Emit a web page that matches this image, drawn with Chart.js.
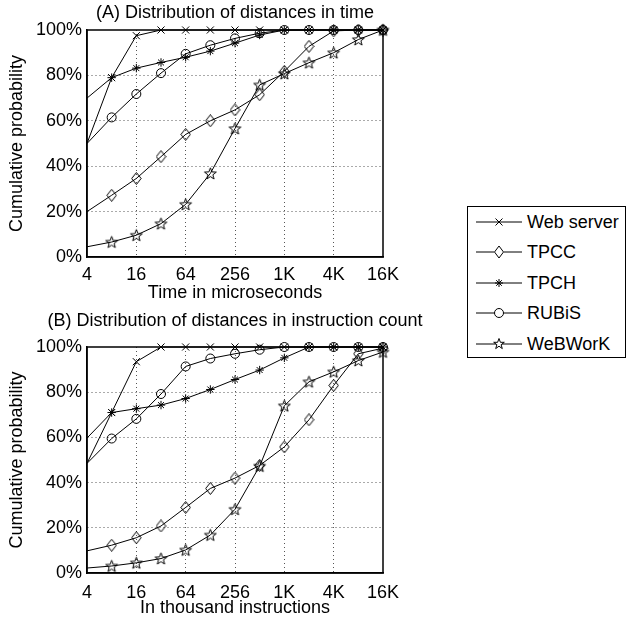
<!DOCTYPE html>
<html><head><meta charset="utf-8">
<script src="https://cdn.jsdelivr.net/npm/chart.js@4"></script>
<style>
body{margin:0;background:#fff;width:626px;height:624px;position:relative;overflow:hidden;font-family:"Liberation Sans",Arial,sans-serif;}
#ca{position:absolute;left:0;top:0;}
#cb{position:absolute;left:0;top:310px;}
#legend{position:absolute;left:467px;top:206px;width:159px;height:152px;border:1.5px solid #000;box-sizing:border-box;background:#fff;}
.item{position:absolute;left:0;width:157px;height:20px;}
.item svg{position:absolute;left:8px;top:0;}
.item span{position:absolute;left:59px;top:0;font-size:18px;line-height:20px;color:#000;white-space:nowrap;}
</style>
</head><body>
<canvas id="ca" width="470" height="310"></canvas>
<canvas id="cb" width="470" height="314"></canvas>
<div id="legend"></div>
<script>
// ---- data ----
const xLabels = ['4','8','16','32','64','128','256','512','1K','2K','4K','8K','16K'];
const seriesNames = ['Web server','TPCC','TPCH','RUBiS','WeBWorK'];
// (A) time in microseconds
const webServerA = [50, 79, 97.5, 100, 100, 100, 100, 100, 100, 100, 100, 100, 100];
const tpccA      = [20, 27.2, 34.6, 44.2, 54, 60, 64.8, 71.5, 81.8, 92.8, 99.6, 100, 100];
const tpchA      = [70, 79, 83.2, 85.7, 88, 90.7, 94.2, 97.8, 100, 100, 100, 100, 100];
const rubisA     = [50, 61.5, 71.8, 81, 89.5, 93.3, 96.3, 98.6, 100, 100, 100, 100, 100];
const webworkA   = [4.5, 6.6, 9.6, 14.7, 23.2, 36.8, 56.6, 75.8, 80.8, 85.6, 90, 95.8, 100];
// (B) thousand instructions
const webServerB = [48.5, 71, 93.5, 100, 100, 100, 100, 100, 100, 100, 100, 100, 100];
const tpccB      = [9.8, 12.3, 15.6, 20.8, 29, 37.4, 42, 47.6, 55.8, 67.8, 83, 97, 99.5];
const tpchB      = [59.7, 71, 72.7, 74.3, 77.2, 81.2, 85.6, 89.8, 95.2, 100, 100, 100, 100];
const rubisB     = [48.5, 59.5, 68.2, 79.2, 91.4, 94.9, 97, 98.8, 100, 100, 100, 100, 100];
const webworkB   = [2.2, 3.1, 4.5, 6.4, 10.2, 16.8, 28.2, 47.3, 74, 84.6, 89, 94, 97.8];
const yTicks = [0, 20, 40, 60, 80, 100];

const FONT = '"Liberation Sans", Arial, Helvetica, sans-serif';

function makeStar(){
  const c=document.createElement('canvas'); c.width=15; c.height=15;
  const g=c.getContext('2d'); g.strokeStyle='#000'; g.lineWidth=1; g.beginPath();
  for(let i=0;i<10;i++){ const r=i%2?2.6:6.2; const a=-Math.PI/2+i*Math.PI/5;
    const x=7.5+r*Math.cos(a), y=8+r*Math.sin(a); if(i) g.lineTo(x,y); else g.moveTo(x,y);}
  g.closePath(); g.stroke(); return c;
}
function makeDiamond(){
  const c=document.createElement('canvas'); c.width=11; c.height=13;
  const g=c.getContext('2d'); g.strokeStyle='#000'; g.lineWidth=1; g.beginPath();
  g.moveTo(5.5,0.5); g.lineTo(10.2,6.5); g.lineTo(5.5,12.5); g.lineTo(0.8,6.5); g.closePath(); g.stroke(); return c;
}
const starImg = makeStar(), diamondImg = makeDiamond();
const styles = ['crossRot', diamondImg, 'star', 'circle', starImg];
const radii = [5, 5, 4.2, 4.5, 5];

const frame = {id:'frame', afterDraw(chart){
  const a=chart.chartArea,c=chart.ctx;c.save();c.strokeStyle='#000';c.lineWidth=1.5;
  c.strokeRect(a.left,a.top,a.right-a.left,a.bottom-a.top);
  const t=chart.options.plugins.frame;
  c.fillStyle='#000';c.font='18px '+FONT;c.textAlign='center';c.textBaseline='middle';
  c.fillText(t.title,(a.left+a.right)/2,t.titleY);
  c.restore();}};

function makeChart(id, series, o){
  return new Chart(document.getElementById(id), {
    type:'line',
    data:{labels:xLabels, datasets: seriesNames.map((n,i)=>({
      label:n, data:series[i], borderColor:'#000', borderWidth:1, tension:0, clip:false,
      pointStyle:styles[i], pointRadius:(ctx)=>ctx.dataIndex===0?0:radii[i],
      pointBorderColor:'#000', pointBackgroundColor:'rgba(0,0,0,0)', pointBorderWidth:1
    }))},
    options:{
      responsive:false, animation:false, devicePixelRatio:1,
      layout:{padding:{left:0,right:87,top:o.topPad,bottom:0}},
      plugins:{legend:{display:false}, tooltip:{enabled:false}, frame:{title:o.title, titleY:o.titleY}},
      scales:{
        x:{type:'category', offset:false,
          grid:{color:(c)=>(c.index%2===0&&c.index>0&&c.index<xLabels.length-1)?'#555':'rgba(0,0,0,0)', drawTicks:false, lineWidth:1},
          border:{display:true,color:'#000',width:1.5,dash:[1,3]},
          ticks:{autoSkip:false,maxRotation:0,minRotation:0,padding:o.tickPad,color:'#000',font:{size:18,family:FONT},
            callback:(v,i)=> i%2===0 ? xLabels[i] : ''},
          title:{display:true,text:o.xTitle,color:'#000',font:{size:18,family:FONT},padding:{top:0,bottom:o.xTitlePad}},
          afterFit:(s)=>{s.height=o.xHeight;}
        },
        y:{min:0,max:100,
          afterBuildTicks:(s)=>{s.ticks=yTicks.map(v=>({value:v}));},
          grid:{color:(c)=>(c.tick&&c.tick.value>0&&c.tick.value<100)?'#555':'rgba(0,0,0,0)', drawTicks:false, lineWidth:1},
          border:{display:true,color:'#000',width:1.5,dash:[1,3]},
          ticks:{padding:5,color:'#000',font:{size:18,family:FONT},callback:(v)=>v+'%'},
          title:{display:true,text:'Cumulative probability',color:'#000',font:{size:18,family:FONT},padding:{top:6,bottom:0}},
          afterFit:(s)=>{s.width=87;}
        }
      }
    },
    plugins:[frame]
  });
}

makeChart('ca', [webServerA,tpccA,tpchA,rubisA,webworkA],
  {title:'(A) Distribution of distances in time', xTitle:'Time in microseconds', titleY:13, topPad:30, tickPad:7, xTitlePad:6, xHeight:53});
makeChart('cb', [webServerB,tpccB,tpchB,rubisB,webworkB],
  {title:'(B) Distribution of distances in instruction count', xTitle:'In thousand instructions', titleY:11.5, topPad:37, tickPad:9, xTitlePad:5, xHeight:51});

// legend (HTML)
const symSvg = [
  '<line x1="0" y1="10" x2="46" y2="10" stroke="#000"/><path d="M19.5 6.5 L26.5 13.5 M19.5 13.5 L26.5 6.5" stroke="#000"/>',
  '<line x1="0" y1="10" x2="18" y2="10" stroke="#000"/><line x1="28" y1="10" x2="46" y2="10" stroke="#000"/><path d="M23 4 L27.5 10 L23 16 L18.5 10 Z" fill="none" stroke="#000"/>',
  '<line x1="0" y1="10" x2="46" y2="10" stroke="#000"/><path d="M23 6 L23 14 M19 10 L27 10 M20.2 7.2 L25.8 12.8 M20.2 12.8 L25.8 7.2" stroke="#000"/>',
  '<line x1="0" y1="10" x2="18.5" y2="10" stroke="#000"/><line x1="27.5" y1="10" x2="46" y2="10" stroke="#000"/><circle cx="23" cy="10" r="4.5" fill="none" stroke="#000"/>',
  '<line x1="0" y1="10" x2="46" y2="10" stroke="#000"/><path d="M23 4.5 L24.4 8.3 L28.3 8.3 L25.1 10.7 L26.3 14.6 L23 12.2 L19.7 14.6 L20.9 10.7 L17.7 8.3 L21.6 8.3 Z" fill="#fff" stroke="#000"/>'
];
const lg=document.getElementById('legend');
seriesNames.forEach((n,i)=>{
  const d=document.createElement('div'); d.className='item'; d.style.top=(4.5+i*30.5)+'px';
  d.innerHTML='<svg width="48" height="20">'+symSvg[i]+'</svg><span>'+n+'</span>';
  lg.appendChild(d);
});
</script>
</body></html>
